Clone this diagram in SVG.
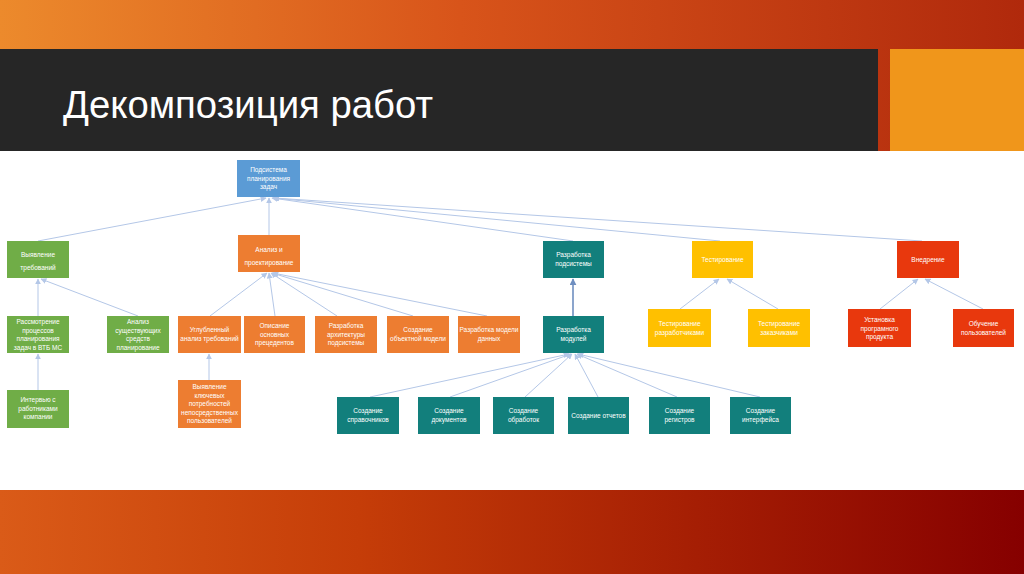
<svg xmlns="http://www.w3.org/2000/svg" width="1024" height="574" viewBox="0 0 1024 574">
<defs>
<linearGradient id="gTop" x1="0" y1="0" x2="1" y2="0">
<stop offset="0" stop-color="#ec8a2c"/>
<stop offset="0.45" stop-color="#d8541a"/>
<stop offset="1" stop-color="#b0290c"/>
</linearGradient>
<linearGradient id="gBot" x1="0" y1="0" x2="1" y2="0">
<stop offset="0" stop-color="#da5b18"/>
<stop offset="0.35" stop-color="#c53d08"/>
<stop offset="1" stop-color="#860000"/>
</linearGradient>
<marker id="ah" viewBox="0 0 10 10" refX="9" refY="5" markerWidth="6" markerHeight="6" orient="auto" markerUnits="userSpaceOnUse">
<path d="M0,0 L10,5 L0,10 z" fill="#b4c7e7"/>
</marker>
<marker id="ahd" viewBox="0 0 10 10" refX="9" refY="5" markerWidth="7" markerHeight="7" orient="auto" markerUnits="userSpaceOnUse">
<path d="M0,0 L10,5 L0,10 z" fill="#6f8fc0"/>
</marker>
</defs>
<style>
.t{font-family:"Liberation Sans","Open Sans",sans-serif;font-size:6.5px;fill:#ffffff;text-anchor:middle}
.title{font-family:"Liberation Sans","DejaVu Sans",sans-serif;font-size:38px;fill:#ffffff}
.c{stroke:#b4c7e7;stroke-width:1;fill:none;marker-end:url(#ah)}
.cd{stroke:#6f8fc0;stroke-width:1.6;fill:none;marker-end:url(#ahd)}
.blue{fill:#5b9bd5}.green{fill:#70ad47}.orange{fill:#ed7d31}.teal{fill:#127f7c}.yellow{fill:#ffc000}.red{fill:#e8380d}
</style>
<rect x="0" y="0" width="1024" height="574" fill="#ffffff"/>
<rect x="0" y="0" width="1024" height="151" fill="url(#gTop)"/>
<rect x="0" y="49" width="878" height="102" fill="#262626"/>
<rect x="890" y="49" width="134" height="102" fill="#f0961b"/>
<rect x="0" y="490" width="1024" height="84" fill="url(#gBot)"/>
<text class="title" x="63" y="118" textLength="370" lengthAdjust="spacingAndGlyphs">Декомпозиция работ</text>

<g id="connectors">
<line class="c" x1="38" y1="241" x2="266" y2="198"/>
<line class="c" x1="269" y1="235" x2="269" y2="198"/>
<line class="c" x1="573" y1="241" x2="272" y2="198"/>
<line class="c" x1="720" y1="241" x2="273" y2="198"/>
<line class="c" x1="922" y1="241" x2="274" y2="198"/>
<line class="c" x1="38" y1="316" x2="38" y2="279"/>
<line class="c" x1="138" y1="316" x2="41" y2="279"/>
<line class="c" x1="38" y1="390" x2="38" y2="354"/>
<line class="c" x1="210" y1="316" x2="267" y2="273"/>
<line class="c" x1="275" y1="316" x2="269" y2="273"/>
<line class="c" x1="337" y1="316" x2="271" y2="273"/>
<line class="c" x1="413" y1="316" x2="272" y2="273"/>
<line class="c" x1="487" y1="316" x2="273" y2="273"/>
<line class="c" x1="209" y1="380" x2="209" y2="354"/>
<line class="cd" x1="573" y1="316" x2="573" y2="279"/>
<line class="c" x1="370" y1="397" x2="569" y2="354"/>
<line class="c" x1="450" y1="397" x2="571" y2="354"/>
<line class="c" x1="525" y1="397" x2="572" y2="354"/>
<line class="c" x1="598" y1="397" x2="575" y2="354"/>
<line class="c" x1="677" y1="397" x2="577" y2="354"/>
<line class="c" x1="760" y1="397" x2="578" y2="354"/>
<line class="c" x1="680" y1="309" x2="719" y2="279"/>
<line class="c" x1="778" y1="309" x2="727" y2="279"/>
<line class="c" x1="880" y1="309" x2="918" y2="279"/>
<line class="c" x1="983" y1="309" x2="925" y2="279"/>
</g>

<g id="n-root"><rect class="blue" x="237" y="160" width="63" height="37"/>
<text class="t" x="268.5" y="172">Подсистема</text><text class="t" x="268.5" y="180.5">планирования</text><text class="t" x="268.5" y="189">задач</text></g>

<g id="n-vyyavlenie"><rect class="green" x="7" y="241" width="62" height="37"/>
<text class="t" x="38" y="257">Выявление</text><text class="t" x="38" y="270">требований</text></g>
<g id="n-rassmotrenie"><rect class="green" x="7" y="316" width="62" height="37"/>
<text class="t" x="38" y="324">Рассмотрение</text><text class="t" x="38" y="332.5">процессов</text><text class="t" x="38" y="341">планирования</text><text class="t" x="38" y="349.5">задач в ВТБ МС</text></g>
<g id="n-analiz-sred"><rect class="green" x="107" y="316" width="62" height="37"/>
<text class="t" x="138" y="324">Анализ</text><text class="t" x="138" y="332.5">существующих</text><text class="t" x="138" y="341">средств</text><text class="t" x="138" y="349.5">планирование</text></g>
<g id="n-intervyu"><rect class="green" x="7" y="390" width="62" height="38"/>
<text class="t" x="38" y="402">Интервью с</text><text class="t" x="38" y="410.5">работниками</text><text class="t" x="38" y="419">компании</text></g>

<g id="n-analiz"><rect class="orange" x="238" y="235" width="62" height="37"/>
<text class="t" x="269" y="252">Анализ и</text><text class="t" x="269" y="265">проектирование</text></g>
<g id="n-uglub"><rect class="orange" x="178" y="316" width="63" height="37"/>
<text class="t" x="209.5" y="332">Углубленный</text><text class="t" x="209.5" y="340.5">анализ требований</text></g>
<g id="n-opisanie"><rect class="orange" x="244" y="316" width="61" height="37"/>
<text class="t" x="274.5" y="328">Описание</text><text class="t" x="274.5" y="336.5">основных</text><text class="t" x="274.5" y="345">прецедентов</text></g>
<g id="n-arkh"><rect class="orange" x="315" y="316" width="62" height="37"/>
<text class="t" x="346" y="328">Разработка</text><text class="t" x="346" y="336.5">архитектуры</text><text class="t" x="346" y="345">подсистемы</text></g>
<g id="n-obj"><rect class="orange" x="387" y="316" width="62" height="37"/>
<text class="t" x="418" y="332">Создание</text><text class="t" x="418" y="340.5">объектной модели</text></g>
<g id="n-model"><rect class="orange" x="458" y="316" width="62" height="37"/>
<text class="t" x="489" y="332">Разработка модели</text><text class="t" x="489" y="340.5">данных</text></g>
<g id="n-vyyavl-kl"><rect class="orange" x="178" y="380" width="63" height="48"/>
<text class="t" x="209.5" y="389">Выявление</text><text class="t" x="209.5" y="397.5">ключевых</text><text class="t" x="209.5" y="406">потребностей</text><text class="t" x="209.5" y="414.5">непосредственных</text><text class="t" x="209.5" y="423">пользователей</text></g>

<g id="n-razr-pods"><rect class="teal" x="543" y="241" width="61" height="37"/>
<text class="t" x="573.5" y="257">Разработка</text><text class="t" x="573.5" y="265.5">подсистемы</text></g>
<g id="n-razr-mod"><rect class="teal" x="543" y="316" width="61" height="37"/>
<text class="t" x="573.5" y="332">Разработка</text><text class="t" x="573.5" y="340.5">модулей</text></g>
<g id="n-sprav"><rect class="teal" x="337" y="397" width="62" height="37"/>
<text class="t" x="368" y="413">Создание</text><text class="t" x="368" y="421.5">справочников</text></g>
<g id="n-dok"><rect class="teal" x="418" y="397" width="62" height="37"/>
<text class="t" x="449" y="413">Создание</text><text class="t" x="449" y="421.5">документов</text></g>
<g id="n-obr"><rect class="teal" x="493" y="397" width="61" height="37"/>
<text class="t" x="523.5" y="413">Создание</text><text class="t" x="523.5" y="421.5">обработок</text></g>
<g id="n-otch"><rect class="teal" x="568" y="397" width="61" height="37"/>
<text class="t" x="598.5" y="417.5">Создание отчетов</text></g>
<g id="n-reg"><rect class="teal" x="649" y="397" width="61" height="37"/>
<text class="t" x="679.5" y="413">Создание</text><text class="t" x="679.5" y="421.5">регистров</text></g>
<g id="n-int"><rect class="teal" x="730" y="397" width="61" height="37"/>
<text class="t" x="760.5" y="413">Создание</text><text class="t" x="760.5" y="421.5">интерфейса</text></g>

<g id="n-test"><rect class="yellow" x="692" y="241" width="61" height="37"/>
<text class="t" x="722.5" y="262">Тестирование</text></g>
<g id="n-test-razr"><rect class="yellow" x="648" y="309" width="63" height="38"/>
<text class="t" x="679.5" y="326">Тестирование</text><text class="t" x="679.5" y="334.5">разработчиками</text></g>
<g id="n-test-zak"><rect class="yellow" x="748" y="309" width="62" height="38"/>
<text class="t" x="779" y="326">Тестирование</text><text class="t" x="779" y="334.5">заказчиками</text></g>

<g id="n-vnedr"><rect class="red" x="897" y="241" width="62" height="37"/>
<text class="t" x="928" y="262">Внедрение</text></g>
<g id="n-ustan"><rect class="red" x="848" y="309" width="63" height="38"/>
<text class="t" x="879.5" y="322">Установка</text><text class="t" x="879.5" y="330.5">програмного</text><text class="t" x="879.5" y="339">продукта</text></g>
<g id="n-obuch"><rect class="red" x="953" y="309" width="61" height="38"/>
<text class="t" x="983.5" y="326">Обучение</text><text class="t" x="983.5" y="334.5">пользователей</text></g>
</svg>
